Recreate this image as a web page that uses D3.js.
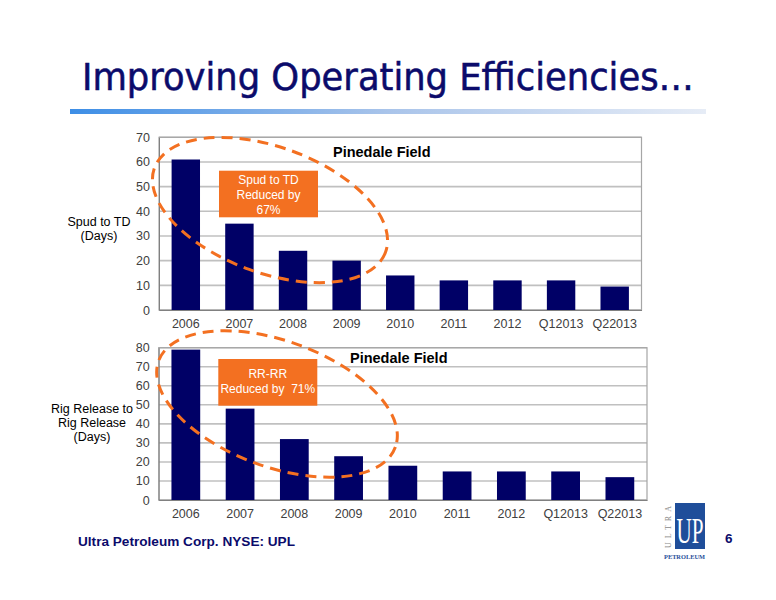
<!DOCTYPE html>
<html><head><meta charset="utf-8">
<script src="https://cdn.jsdelivr.net/npm/d3@7"></script>
<style>body{margin:0;background:#fff}svg{display:block}</style>
</head><body>
<svg id="c" width="776" height="600"></svg>
<script>
const categories = ["2006","2007","2008","2009","2010","2011","2012","Q12013","Q22013"];
const spudToTD = [61,35,24,20,14,12,12,12,9.5];
const rigRelease = [79,48,32,23,18,15,15,15,12];
const topTicks = [0,10,20,30,40,50,60,70];
const bottomTicks = [0,10,20,30,40,50,60,70,80];

const svg = d3.select("#c");
const navy = "#000066", orange = "#f37021", grid = "#c0c0c0", tickCol = "#404040";
const font = "'Liberation Sans', Arial, sans-serif";

// Title
const defs = svg.append("defs");
const grad = defs.append("linearGradient").attr("id","g1");
grad.append("stop").attr("offset","0%").attr("stop-color","#3d8ee6");
grad.append("stop").attr("offset","50%").attr("stop-color","#a9c4ea");
grad.append("stop").attr("offset","100%").attr("stop-color","#e6ecf6");
const title = svg.append("text").attr("x",0).attr("y",0)
  .attr("font-family","'DejaVu Sans Condensed','Liberation Sans Narrow',sans-serif")
  .attr("font-size",37).attr("fill","#0b0b6b").attr("stroke","#0b0b6b").attr("stroke-width",0.5)
  .text("Improving Operating Efficiencies…");
const tw = title.node().getComputedTextLength();
title.attr("transform",`translate(82,90) scale(${612/tw},1)`);
svg.append("rect").attr("x",70).attr("y",109).attr("width",636).attr("height",5).attr("fill","url(#g1)");

function chart(cfg){
  const x = d3.scaleBand().domain(categories).range([cfg.x0,cfg.x1]).paddingInner(0.47).paddingOuter(0.235);
  const y = d3.scaleLinear().domain([0,cfg.max]).range([cfg.y1,cfg.y0]);
  const g = svg.append("g");
  g.selectAll("line.grid").data(cfg.ticks).join("line")
    .attr("x1",cfg.x0).attr("x2",cfg.x1).attr("y1",d=>y(d)).attr("y2",d=>y(d))
    .attr("stroke",grid).attr("stroke-width",1.6);
  g.append("rect").attr("x",cfg.x0).attr("y",cfg.y0).attr("width",cfg.x1-cfg.x0).attr("height",cfg.y1-cfg.y0)
    .attr("fill","none").attr("stroke","#a6a6a6").attr("stroke-width",1.2);
  g.selectAll("rect.bar").data(cfg.values).join("rect")
    .attr("x",(d,i)=>x(categories[i])).attr("width",x.bandwidth())
    .attr("y",d=>y(d)).attr("height",d=>y(0)-y(d)).attr("fill",navy);
  const ya = d3.axisLeft(y).tickValues(cfg.ticks).tickSize(0).tickPadding(9);
  const ag = g.append("g").attr("transform",`translate(${cfg.x0},0)`).call(ya);
  ag.select(".domain").attr("stroke","#808080");
  ag.selectAll("text").attr("font-family",font).attr("font-size",12.5).attr("fill",tickCol);
  const xa = d3.axisBottom(x).tickSize(0).tickPadding(9);
  const xg = g.append("g").attr("transform",`translate(0,${cfg.y1})`).call(xa);
  xg.select(".domain").attr("stroke","#808080");
  xg.selectAll("text").attr("font-family",font).attr("font-size",12.5).attr("fill",tickCol);
  g.append("text").attr("x",cfg.titleX).attr("y",cfg.titleY).attr("font-family",font)
    .attr("font-weight","bold").attr("font-size",14.5).attr("fill","#000").text("Pinedale Field");
  // y label
  g.append("text").attr("font-family",font).attr("font-size",12.5).attr("fill","#000")
    .attr("text-anchor","middle")
    .selectAll("tspan").data(cfg.ylabel).join("tspan")
    .attr("x",cfg.ylx).attr("y",(d,i)=>cfg.yly+i*14).text(d=>d);
  // ellipse
  g.append("ellipse").attr("cx",0).attr("cy",0).attr("rx",cfg.ell.rx).attr("ry",cfg.ell.ry)
    .attr("transform",`translate(${cfg.ell.cx},${cfg.ell.cy}) rotate(${cfg.ell.rot})`)
    .attr("fill","none").attr("stroke",orange).attr("stroke-width",3).attr("stroke-dasharray","11,7");
  // box
  g.append("rect").attr("x",cfg.box.x).attr("y",cfg.box.y).attr("width",99).attr("height",cfg.box.h).attr("fill",orange);
  g.append("text").attr("font-family",font).attr("font-size",12).attr("fill","#fff").attr("text-anchor","middle")
    .selectAll("tspan").data(cfg.box.lines).join("tspan")
    .attr("x",cfg.box.x+49.5).attr("y",(d,i)=>cfg.box.ty+i*15).attr("xml:space","preserve").text(d=>d);
}

chart({x0:159,x1:641.5,y0:137.3,y1:310,max:70,ticks:topTicks,values:spudToTD,
  titleX:333,titleY:157,ylabel:["Spud to TD","(Days)"],ylx:99,yly:226,
  ell:{cx:270,cy:210,rx:123,ry:63,rot:20},
  box:{x:219,y:170.7,h:46.6,lines:["Spud to TD","Reduced by","67%"],ty:184}});
chart({x0:158.7,x1:647,y0:347.7,y1:500,max:80,ticks:bottomTicks,values:rigRelease,
  titleX:350,titleY:363,ylabel:["Rig Release to","Rig Release","(Days)"],ylx:92,yly:413,
  ell:{cx:277,cy:404,rx:126,ry:63,rot:20},
  box:{x:218.3,y:359,h:46.7,lines:["RR-RR","Reduced by  71%"],ty:378}});

// footer
svg.append("text").attr("x",78).attr("y",546).attr("font-family",font).attr("font-weight","bold")
  .attr("font-size",13.5).attr("fill","#0b0b6b").attr("textLength",217).attr("lengthAdjust","spacingAndGlyphs")
  .text("Ultra Petroleum Corp. NYSE: UPL");
svg.append("text").attr("x",725).attr("y",543).attr("font-family",font).attr("font-weight","bold")
  .attr("font-size",13.5).attr("fill","#0b0b6b").text("6");
// logo
svg.append("rect").attr("x",675).attr("y",503).attr("width",30).attr("height",46).attr("fill","#1f4e9a");
svg.append("text").attr("x",676.5).attr("y",543).attr("font-family","'Liberation Serif',serif")
  .attr("font-size",36).attr("fill","#fff").attr("textLength",27).attr("lengthAdjust","spacingAndGlyphs").text("UP");
svg.append("text").attr("transform","translate(671,548) rotate(-90)").attr("font-family","'Liberation Serif',serif")
  .attr("font-size",8).attr("fill","#888").attr("textLength",42).attr("lengthAdjust","spacing").text("ULTRA");
svg.append("text").attr("x",664).attr("y",559).attr("font-family","'Liberation Serif',serif").attr("font-weight","bold")
  .attr("font-size",7).attr("fill","#1f4e9a").attr("textLength",41).attr("lengthAdjust","spacingAndGlyphs").text("PETROLEUM");
</script>
</body></html>
